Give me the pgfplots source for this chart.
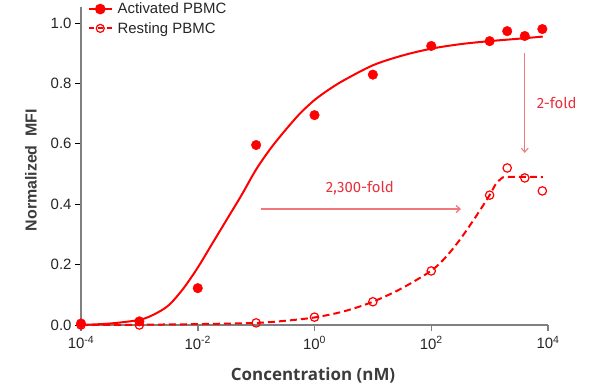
\documentclass[border=0pt]{standalone}
\usepackage{fontspec}
\setmainfont{Liberation Sans}
\newfontfamily\xlabfont{Open Sans}
\newfontfamily\annfont{Fira Sans}
\usepackage{pgfplots}
\pgfplotsset{compat=1.18}
\usetikzlibrary{arrows.meta}
\definecolor{dred}{HTML}{FF0000}
\definecolor{annred}{HTML}{E8303A}
\definecolor{arrred}{HTML}{F2777D}
\definecolor{axgray}{HTML}{808080}
\definecolor{txt}{HTML}{262626}
\begin{document}
\begin{tikzpicture}[x=1bp,y=1bp]
\useasboundingbox (0,0) rectangle (600,390);
\begin{axis}[
  at={(81bp,65bp)}, anchor=south west,
  scale only axis, width=467bp, height=318bp,
  xmode=log, xmin=1e-4, xmax=1e4, ymin=0, ymax=1.053,
  axis lines=left,
  axis line style={-, axgray, line width=2bp},
  xtick={1e-4,1e-2,1,1e2,1e4},
  xticklabels={10\textsuperscript{-4},10\textsuperscript{-2},10\textsuperscript{0},10\textsuperscript{2},10\textsuperscript{4}},
  ytick={0,0.2,0.4,0.6,0.8,1},
  yticklabel style={/pgf/number format/.cd, fixed, fixed zerofill, precision=1, assume math mode=true},
  xticklabel style={yshift=-2bp},
  xminorticks=false, yminorticks=false,
  tick align=outside, major tick length=6bp,
  xtick style={axgray, line width=1.5bp},
  ytick style={black, line width=0.8bp},
  tick label style={font=\fontsize{15}{17}\selectfont, text=txt},
  xlabel={Concentration (nM)},
  xlabel style={font=\xlabfont\bfseries\fontsize{17}{20}\selectfont, text=txt!90!white, at={(axis description cs:0.497,-0.157)}, anchor=center},
  ylabel={Normalized\ \ MFI},
  ylabel style={font=\bfseries\fontsize{16}{19}\selectfont, text=txt!90!white, at={(axis description cs:-0.107,0.487)}, anchor=center},
  clip=false,
  legend style={at={(axis description cs:0.008,1.026)}, anchor=north west, draw=none, fill=none,
    font=\fontsize{15}{17}\selectfont, text=txt, row sep=3bp, column sep=3bp},
  legend cell align=left,
  legend image code/.code={\draw[mark repeat=2,mark phase=2] plot coordinates {(0cm,0cm) (0.4cm,0cm) (0.8cm,0cm)};},
]
% legend images
\addlegendimage{dred, line width=2bp, mark=*, mark size=4.3bp, mark options={solid, fill=dred}}
\addlegendentry{Activated PBMC}
\addlegendimage{dred, line width=2bp, dash pattern=on 5bp off 4bp, mark=o, mark size=4bp, mark options={solid, line width=1.2bp}}
\addlegendentry{Resting PBMC}
% Activated fit curve
\addplot[dred, line width=2bp, smooth, forget plot] coordinates {
 (1e-4,0.0) (3.162e-4,0.005) (1e-3,0.017) (1.778e-3,0.035) (3.162e-3,0.065)
 (5.623e-3,0.12) (1e-2,0.19) (1.778e-2,0.27) (3.162e-2,0.35) (5.623e-2,0.43)
 (0.1,0.515) (0.1778,0.585) (0.3162,0.645) (0.5623,0.70) (1,0.745)
 (1.778,0.78) (3.162,0.81) (10,0.86) (31.62,0.892) (100,0.915)
 (316.2,0.93) (1000,0.94) (3162,0.948) (8128,0.955)
};
% Resting fit curve
\addplot[dred, line width=2bp, dash pattern=on 7bp off 4bp, smooth, forget plot] coordinates {
 (1e-4,0.0) (1e-3,0.001) (1e-2,0.003) (0.1,0.007) (0.3162,0.014) (1,0.025)
 (3.162,0.045) (10,0.077) (31.62,0.122) (100,0.18) (177.8,0.225) (316.2,0.285)
 (562.3,0.355) (1000,0.43) (1259,0.465) (1585,0.485) (1995,0.49) (8128,0.49)
};
% Activated data
\addplot[only marks, mark=*, mark size=4.8bp, dred, forget plot] coordinates {
 (1e-4,0.005) (1e-3,0.012) (1e-2,0.122) (0.1,0.596) (1,0.695) (10,0.829)
 (100,0.924) (1000,0.94) (2000,0.973) (4000,0.957) (8000,0.98)
};
% Resting data
\addplot[only marks, mark=o, mark size=4.2bp, dred, line width=1.2bp, forget plot] coordinates {
 (1e-4,0.0) (1e-3,0.0) (0.1,0.007) (1,0.026) (10,0.077) (100,0.179)
 (1000,0.43) (2000,0.52) (4000,0.487) (8000,0.444)
};
% annotations
\draw[arrred, line width=1bp, -{Straight Barb[length=4bp,width=7bp]}] (axis cs:4000,0.90) -- (axis cs:4000,0.57);
\draw[arrred, line width=1.3bp, -{Straight Barb[length=4bp,width=7bp]}] (axis cs:0.12,0.384) -- (axis cs:324,0.384);
\node[annred, font=\annfont\fontsize{15}{17}\selectfont] at (axis cs:6.0,0.454) {2,300-fold};
\node[annred, font=\annfont\fontsize{15}{17}\selectfont] at (axis cs:14125,0.735) {2-fold};
\end{axis}
\end{tikzpicture}
\end{document}
